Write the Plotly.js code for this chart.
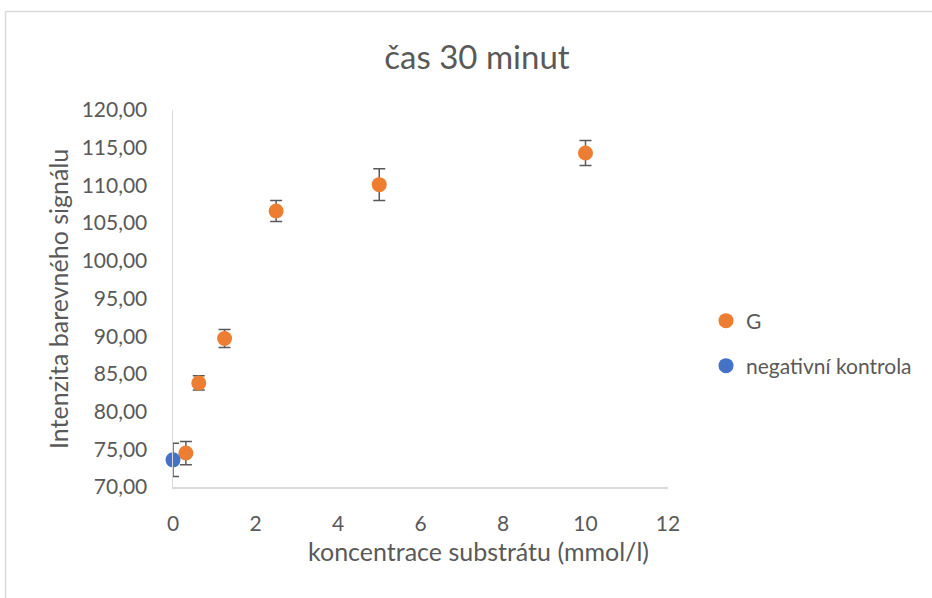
<!DOCTYPE html>
<html>
<head>
<meta charset="utf-8">
<script src="https://cdn.plot.ly/plotly-3.0.1.min.js"></script>
<style>html,body{margin:0;padding:0;background:#fff;}#chart{width:932px;height:598px;}</style>
</head>
<body>
<div id="chart"></div>
<script>
// Data
const gX = [0.3125, 0.625, 1.25, 2.5, 5, 10];
const gY = [74.5, 83.8, 89.7, 106.6, 110.1, 114.3];
const gErr = [1.55, 0.95, 1.2, 1.4, 2.1, 1.65];
const negX = [0];
const negY = [73.6];
const negErr = [2.2];
const seriesNames = ["G", "negativní kontrola"];
const chartTitle = "čas 30 minut";
const xTitle = "koncentrace substrátu (mmol/l)";
const yTitle = "Intenzita barevného signálu";

const FONT = "Lato, 'Open Sans', sans-serif";
const TXT = "#595959";
const errStyle = {type: 'data', visible: true, color: '#595959', thickness: 1.5, width: 6};

const traces = [
  {
    x: gX, y: gY, name: seriesNames[0], type: 'scatter', mode: 'markers',
    marker: {color: '#ED7D31', size: 15},
    error_y: Object.assign({array: gErr}, errStyle),
    cliponaxis: false, legend: 'legend'
  },
  {
    x: negX, y: negY, name: seriesNames[1], type: 'scatter', mode: 'markers',
    marker: {color: '#4472C4', size: 15},
    error_y: Object.assign({array: negErr}, errStyle),
    cliponaxis: false, legend: 'legend2'
  }
];

const legendCommon = {
  font: {family: FONT, size: 21, color: TXT},
  bgcolor: 'rgba(0,0,0,0)', xanchor: 'left', yanchor: 'middle',
  itemwidth: 30, tracegroupgap: 0
};

const layout = {
  width: 932, height: 598,
  margin: {l: 173, r: 264, t: 110, b: 111},
  paper_bgcolor: '#ffffff', plot_bgcolor: '#ffffff',
  separators: ', ',
  font: {family: FONT, color: TXT},
  title: {
    text: chartTitle, font: {family: FONT, size: 33, color: TXT},
    xref: 'container', x: 477/932, xanchor: 'center',
    yref: 'container', y: 1 - 57/598, yanchor: 'middle'
  },
  xaxis: {
    range: [0, 12], dtick: 2, tick0: 0, showgrid: false, zeroline: false,
    showline: true, linecolor: '#d9d9d9', linewidth: 1.5, ticks: '',
    ticklabelstandoff: 17,
    tickfont: {family: FONT, size: 21, color: TXT}
  },
  yaxis: {
    range: [70, 120], dtick: 5, tick0: 70, showgrid: false, zeroline: false,
    showline: true, linecolor: '#d9d9d9', linewidth: 1.5, ticks: '',
    tickformat: '.2f', ticklabelstandoff: 20,
    tickfont: {family: FONT, size: 21, color: TXT}
  },
  showlegend: true,
  legend: Object.assign({x: (706-173)/495, y: (487-321)/377}, legendCommon),
  legend2: Object.assign({x: (706-173)/495, y: (487-366)/377}, legendCommon),
  annotations: [
    {text: xTitle, xref: 'paper', yref: 'paper', x: (478-173)/495, y: (487-551)/377,
     xanchor: 'center', yanchor: 'middle', showarrow: false,
     font: {family: FONT, size: 25, color: TXT}},
    {text: yTitle, xref: 'paper', yref: 'paper', x: (58-173)/495, y: (487-299)/377,
     xanchor: 'center', yanchor: 'middle', showarrow: false, textangle: -90,
     font: {family: FONT, size: 25, color: TXT}}
  ],
  shapes: [
    {type: 'line', xref: 'paper', yref: 'paper', x0: (5.5-173)/495, x1: (940-173)/495,
     y0: (487-11.5)/377, y1: (487-11.5)/377, line: {color: '#d9d9d9', width: 1.5}},
    {type: 'line', xref: 'paper', yref: 'paper', x0: (5.5-173)/495, x1: (5.5-173)/495,
     y0: (487-11.5)/377, y1: (487-610)/377, line: {color: '#d9d9d9', width: 1.5}}
  ]
};

Plotly.newPlot('chart', traces, layout, {displayModeBar: false, staticPlot: true});
</script>
</body>
</html>
